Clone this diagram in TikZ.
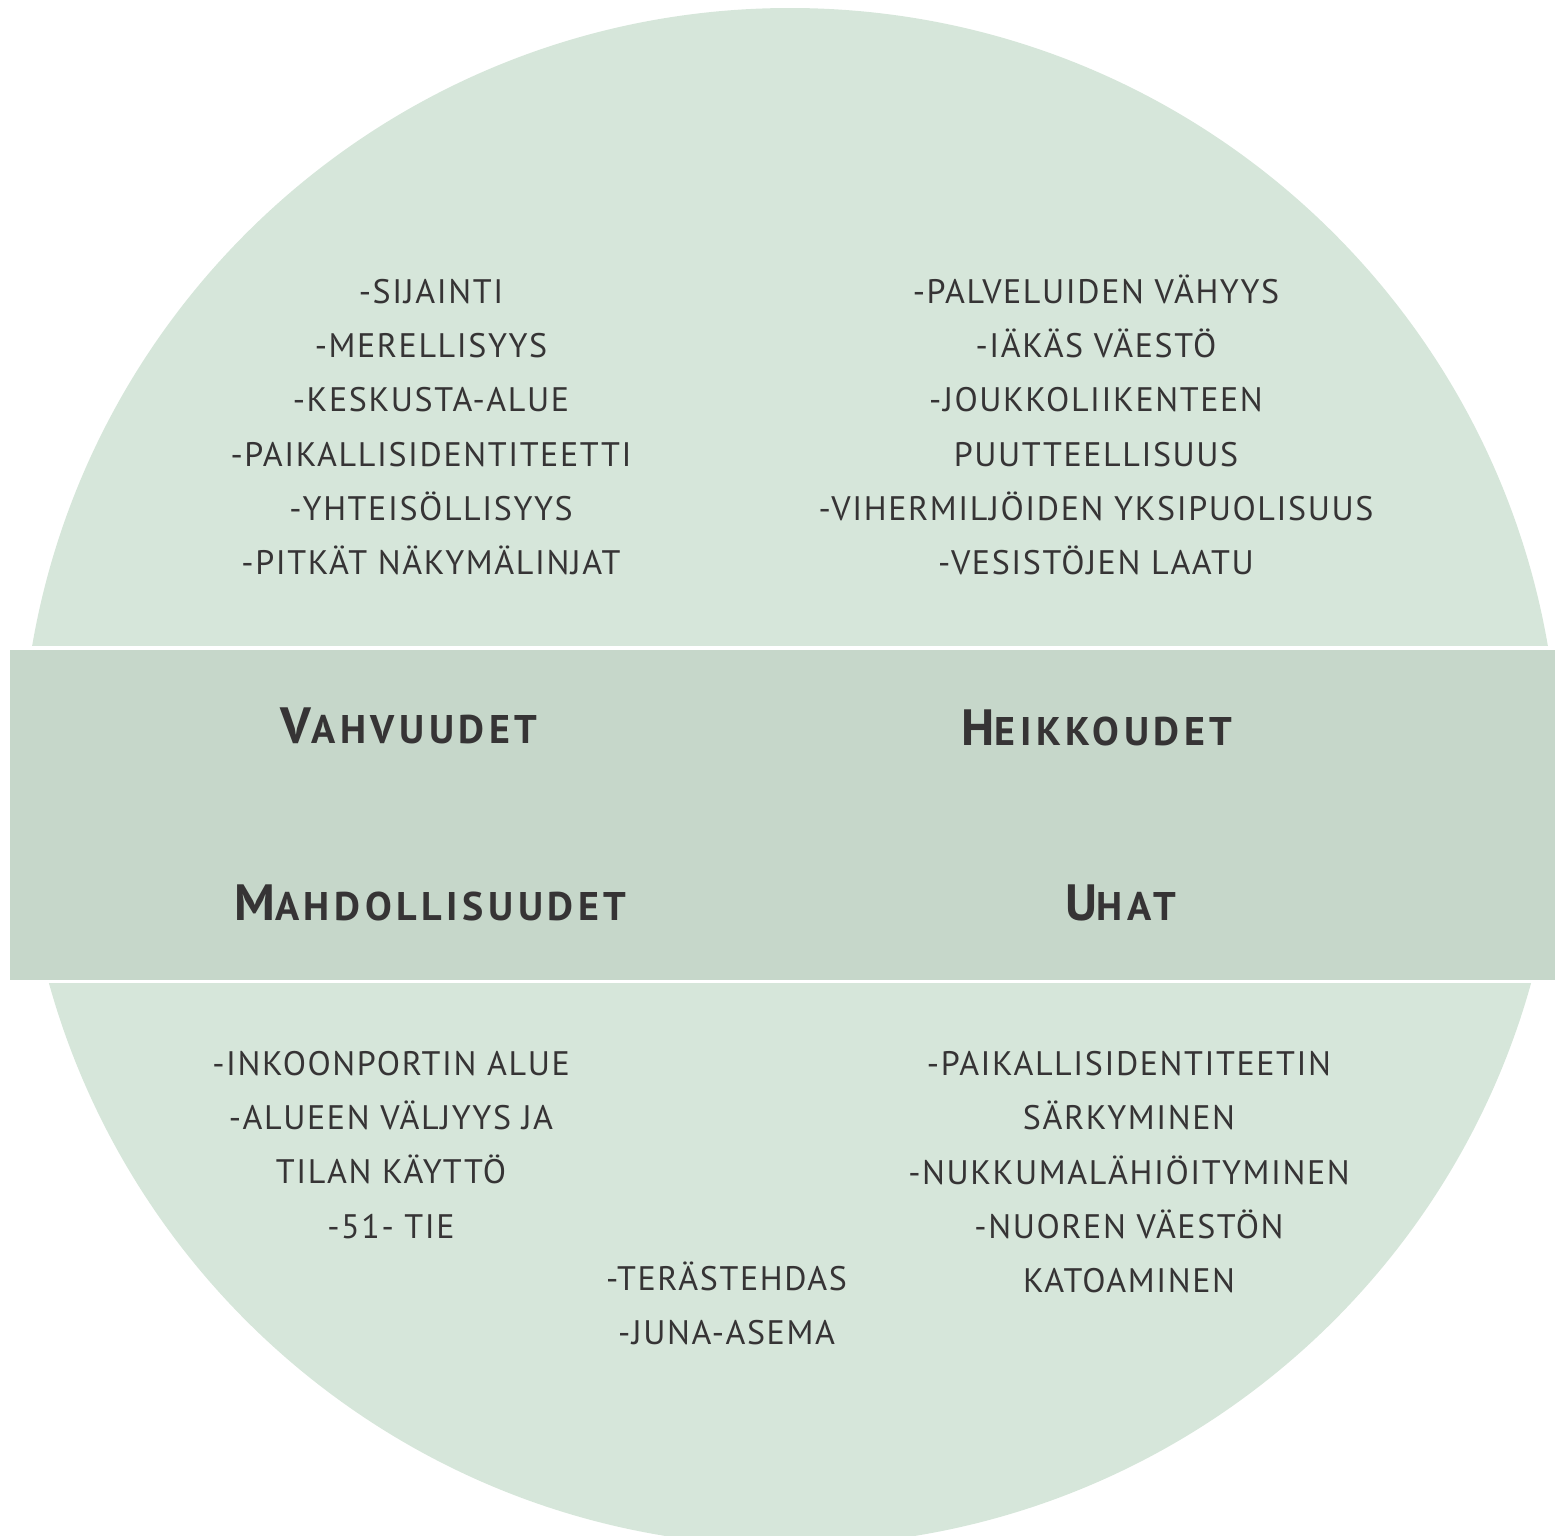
\documentclass[tikz,border=0pt]{standalone}
\usepackage{fontspec}
\setmainfont{PT Sans}[LetterSpace=4.7]
\newfontfamily\headfont{PT Sans}[BoldFont={PT Sans Bold},LetterSpace=11.5]
\definecolor{circlegreen}{HTML}{D6E6DA}
\definecolor{bandgreen}{HTML}{C6D7CA}
\definecolor{textgrey}{HTML}{363435}
\tikzset{
  item/.style={anchor=base, text=textgrey, inner sep=0pt, font=\fontsize{34}{40}\selectfont},
  heading/.style={anchor=base, text=textgrey, inner sep=0pt, font=\headfont\bfseries},
}
\newcommand{\bigsc}[2]{{\fontsize{51}{56}\selectfont #1}{\fontsize{40}{46}\selectfont #2}}
\begin{document}
\begin{tikzpicture}[x=1pt,y=-1pt]
\useasboundingbox (0,0) rectangle (1555,1535);
\clip (0,0) rectangle (1555,1535);
\fill[circlegreen] (790,777) circle[radius=769];
\fill[white] (0,646) rectangle (1555,983);
\fill[bandgreen] (9.5,649.5) rectangle (1555,980);

% Strengths
\node[item] (s1) at (431,303) {-SIJAINTI};
\node[item] (s2) at (431,357.5) {-MERELLISYYS};
\node[item] (s3) at (431,411.5) {-KESKUSTA-ALUE};
\node[item] (s4) at (431,466) {-PAIKALLISIDENTITEETTI};
\node[item] (s5) at (431,520) {-YHTEISÖLLISYYS};
\node[item] (s6) at (431,574) {-PITKÄT NÄKYMÄLINJAT};

% Weaknesses
\node[item] (w1) at (1096,303) {-PALVELUIDEN VÄHYYS};
\node[item] (w2) at (1096,357.5) {-IÄKÄS VÄESTÖ};
\node[item] (w3) at (1096,411.5) {-JOUKKOLIIKENTEEN};
\node[item] (w4) at (1096,466) {PUUTTEELLISUUS};
\node[item] (w5) at (1096,520) {-VIHERMILJÖIDEN YKSIPUOLISUUS};
\node[item] (w6) at (1096,574) {-VESISTÖJEN LAATU};

% Headings
\node[heading] (hv) at (409,743) {\bigsc{V}{AHVUUDET}};
\node[heading] (hh) at (1097,745) {\bigsc{H}{EIKKOUDET}};
\node[heading] (hm) at (430.5,920) {\bigsc{M}{AHDOLLISUUDET}};
\node[heading] (hu) at (1120.5,920) {\bigsc{U}{HAT}};

% Opportunities
\node[item] (o1) at (391,1075) {-INKOONPORTIN ALUE};
\node[item] (o2) at (391,1129) {-ALUEEN VÄLJYYS JA};
\node[item] (o3) at (391,1183.5) {TILAN KÄYTTÖ};
\node[item] (o4) at (391,1238) {-51- TIE};
\node[item] (o5) at (726.5,1290) {-TERÄSTEHDAS};
\node[item] (o6) at (726.5,1344) {-JUNA-ASEMA};

% Threats
\node[item] (t1) at (1129,1075) {-PAIKALLISIDENTITEETIN};
\node[item] (t2) at (1129,1129) {SÄRKYMINEN};
\node[item] (t3) at (1129,1184) {-NUKKUMALÄHIÖITYMINEN};
\node[item] (t4) at (1129,1238) {-NUOREN VÄESTÖN};
\node[item] (t5) at (1129,1292.5) {KATOAMINEN};
\end{tikzpicture}
\end{document}
